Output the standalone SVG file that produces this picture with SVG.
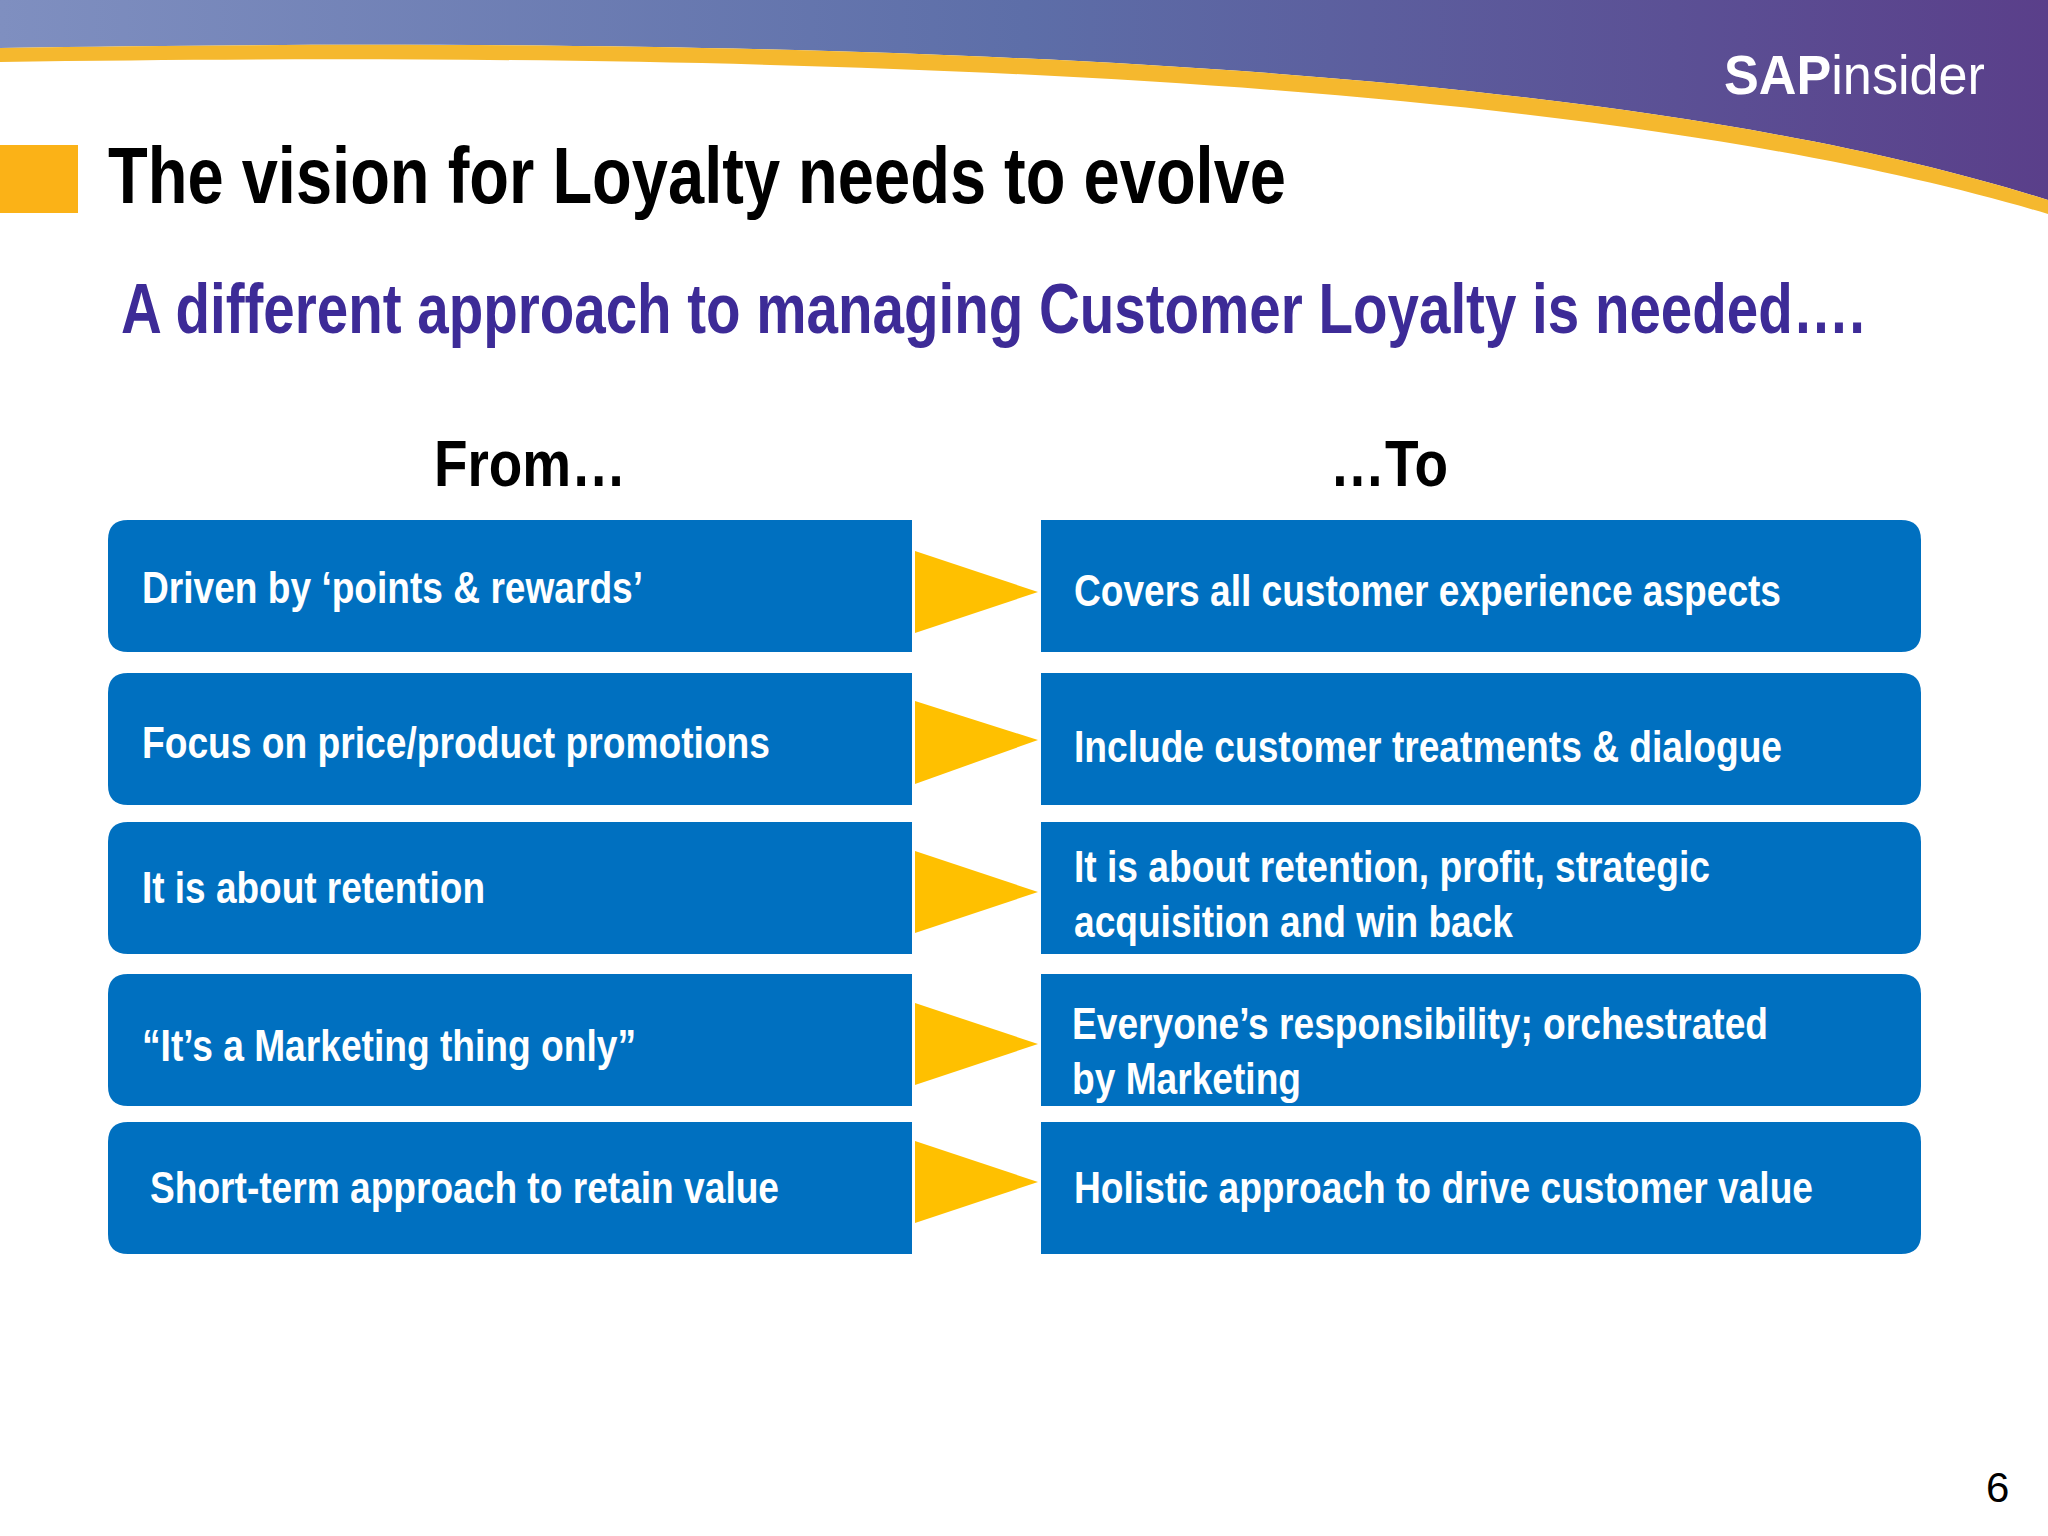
<svg xmlns="http://www.w3.org/2000/svg" width="2048" height="1536" viewBox="0 0 2048 1536">
<defs>
<linearGradient id="hd" x1="0" y1="0" x2="1" y2="0">
<stop offset="0" stop-color="#7f8fc0"/><stop offset="0.5" stop-color="#5d6ea8"/><stop offset="1" stop-color="#5a3f8a"/>
</linearGradient>
<style>
.t{font-family:"Liberation Sans",sans-serif;font-weight:bold}
.bx{fill:#0070C0}
.bt{fill:#fff;font-size:44px}
.ar{fill:#FFC000}
</style>
</defs>
<rect width="2048" height="1536" fill="#fff"/>
<path d="M0 0 H2048 V200 C1700 90 1100 30 0 48 Z" fill="url(#hd)"/>
<path d="M0 48 C1100 30 1700 90 2048 200 V214 C1700 110 1100 45 0 62 Z" fill="#F5B82E"/>
<text x="1724" y="94" class="t" font-size="56" fill="#fff" textLength="261" lengthAdjust="spacingAndGlyphs">SAP<tspan font-weight="normal">insider</tspan></text>
<rect x="0" y="145" width="78" height="68" fill="#FBB217"/>
<text x="108" y="203" class="t" font-size="80" fill="#000" textLength="1178" lengthAdjust="spacingAndGlyphs">The vision for Loyalty needs to evolve</text>
<text x="121" y="333" class="t" font-size="70" fill="#3D2B97" textLength="1744" lengthAdjust="spacingAndGlyphs">A different approach to managing  Customer Loyalty is needed….</text>
<text x="434" y="486" class="t" font-size="64" fill="#000" textLength="192" lengthAdjust="spacingAndGlyphs">From…</text>
<text x="1330" y="486" class="t" font-size="64" fill="#000" textLength="118" lengthAdjust="spacingAndGlyphs">…To</text>
<g id="rows">
<g id="r1">
<path class="bx" d="M128 520 H912 V652 H128 Q108 652 108 632 V540 Q108 520 128 520 Z"/>
<path class="bx" d="M1041 520 H1901 Q1921 520 1921 540 V632 Q1921 652 1901 652 H1041 Z"/>
<text x="142" y="603" class="t bt" textLength="501" lengthAdjust="spacingAndGlyphs">Driven by ‘points &amp; rewards’</text>
<text x="1074" y="606" class="t bt" textLength="707" lengthAdjust="spacingAndGlyphs">Covers all customer experience aspects</text>
</g>
<g id="r2">
<path class="bx" d="M128 673 H912 V805 H128 Q108 805 108 785 V693 Q108 673 128 673 Z"/>
<path class="bx" d="M1041 673 H1901 Q1921 673 1921 693 V785 Q1921 805 1901 805 H1041 Z"/>
<text x="142" y="758" class="t bt" textLength="628" lengthAdjust="spacingAndGlyphs">Focus on price/product promotions</text>
<text x="1074" y="762" class="t bt" textLength="708" lengthAdjust="spacingAndGlyphs">Include customer treatments &amp; dialogue</text>
</g>
<g id="r3">
<path class="bx" d="M128 822 H912 V954 H128 Q108 954 108 934 V842 Q108 822 128 822 Z"/>
<path class="bx" d="M1041 822 H1901 Q1921 822 1921 842 V934 Q1921 954 1901 954 H1041 Z"/>
<text x="142" y="903" class="t bt" textLength="343" lengthAdjust="spacingAndGlyphs">It is about retention</text>
<text x="1074" y="882" class="t bt" textLength="636" lengthAdjust="spacingAndGlyphs">It is about retention, profit, strategic</text>
<text x="1074" y="937" class="t bt" textLength="439" lengthAdjust="spacingAndGlyphs">acquisition and win back</text>
</g>
<g id="r4">
<path class="bx" d="M128 974 H912 V1106 H128 Q108 1106 108 1086 V994 Q108 974 128 974 Z"/>
<path class="bx" d="M1041 974 H1901 Q1921 974 1921 994 V1086 Q1921 1106 1901 1106 H1041 Z"/>
<text x="142" y="1061" class="t bt" textLength="494" lengthAdjust="spacingAndGlyphs">“It’s a Marketing thing only”</text>
<text x="1072" y="1039" class="t bt" textLength="696" lengthAdjust="spacingAndGlyphs">Everyone’s responsibility; orchestrated</text>
<text x="1072" y="1094" class="t bt" textLength="229" lengthAdjust="spacingAndGlyphs">by Marketing</text>
</g>
<g id="r5">
<path class="bx" d="M128 1122 H912 V1254 H128 Q108 1254 108 1234 V1142 Q108 1122 128 1122 Z"/>
<path class="bx" d="M1041 1122 H1901 Q1921 1122 1921 1142 V1234 Q1921 1254 1901 1254 H1041 Z"/>
<text x="150" y="1203" class="t bt" textLength="629" lengthAdjust="spacingAndGlyphs">Short-term approach to retain value</text>
<text x="1074" y="1203" class="t bt" textLength="739" lengthAdjust="spacingAndGlyphs">Holistic approach to drive customer value</text>
</g>
</g>
<g id="connectors">
<polygon class="ar" points="915,551 1038,592 915,633"/>
<polygon class="ar" points="915,701 1038,740 915,784"/>
<polygon class="ar" points="915,851 1038,892 915,933"/>
<polygon class="ar" points="915,1003 1038,1044 915,1085"/>
<polygon class="ar" points="915,1141 1038,1182 915,1223"/>
</g>
<text x="1986" y="1502" font-family="Liberation Sans,sans-serif" font-size="42" fill="#000">6</text>
</svg>
